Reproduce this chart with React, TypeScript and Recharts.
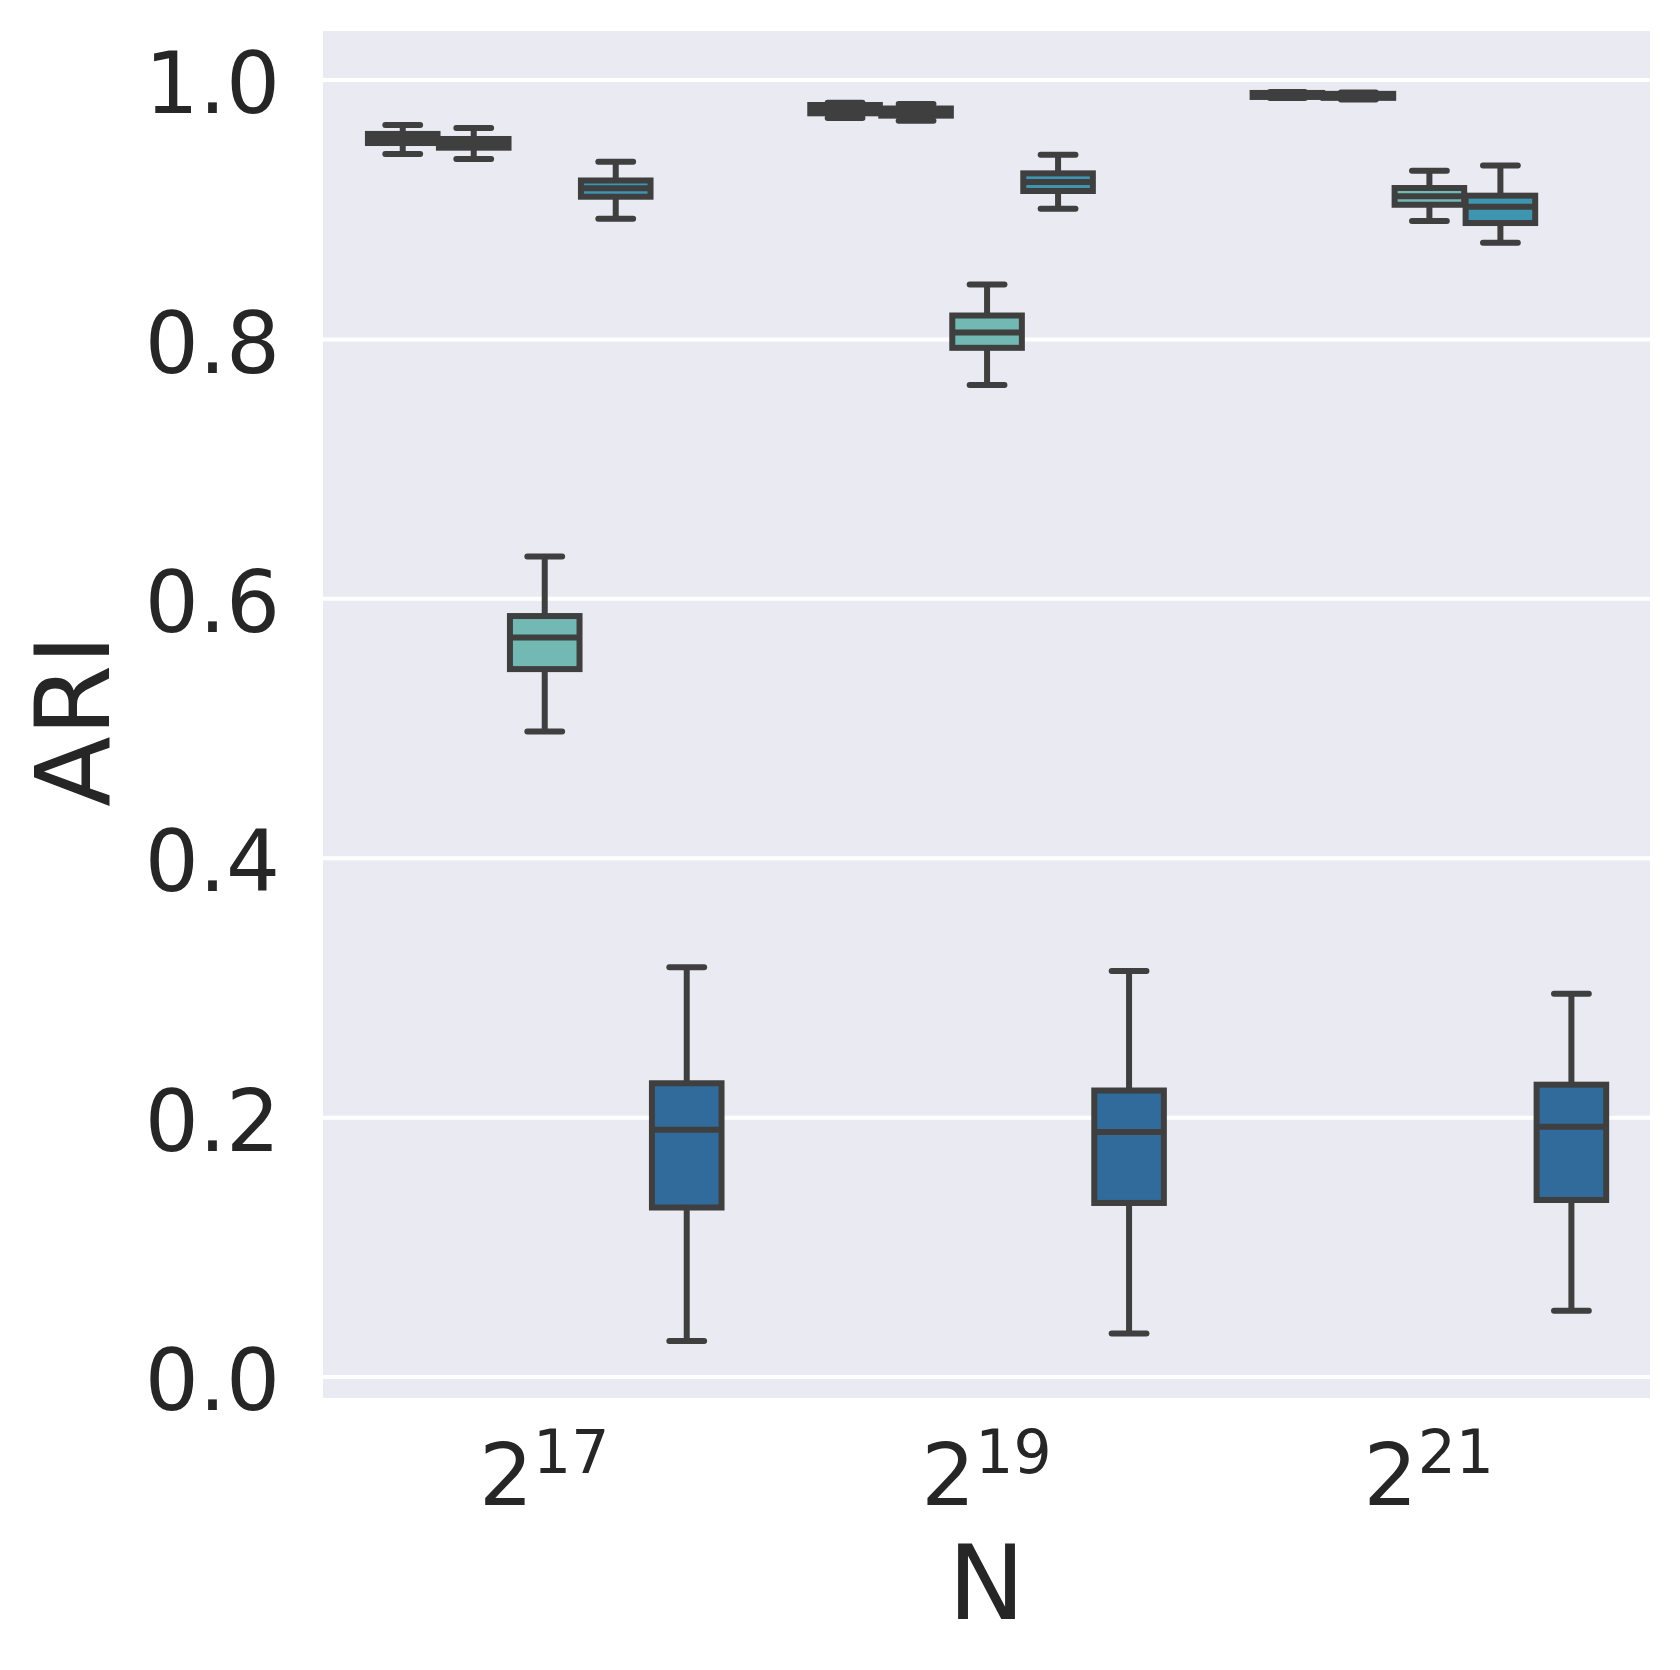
import { BarChart, Bar, XAxis, YAxis, CartesianGrid } from 'recharts';

// N = 2^17, 2^19, 2^21
const exponents = ['17', '19', '21'];

// five-number summaries per category: [whiskerLow, q1, median, q3, whiskerHigh]
const hueA = [
  [0.943, 0.9514, 0.955, 0.9584, 0.9653],
  [0.9707, 0.9743, 0.978, 0.9807, 0.9825],
  [0.9861, 0.9869, 0.9885, 0.99, 0.9908],
];
const hueB = [
  [0.939, 0.9478, 0.951, 0.9545, 0.963],
  [0.9686, 0.9725, 0.975, 0.978, 0.9815],
  [0.985, 0.9862, 0.9878, 0.9893, 0.9903],
];
const hueC = [
  [0.4977, 0.5458, 0.5701, 0.5867, 0.6327],
  [0.7648, 0.7935, 0.8054, 0.8184, 0.8423],
  [0.8913, 0.9038, 0.9103, 0.9167, 0.93],
];
const hueD = [
  [0.893, 0.91, 0.9165, 0.9225, 0.937],
  [0.9008, 0.9144, 0.9213, 0.928, 0.9424],
  [0.8746, 0.8897, 0.9023, 0.9108, 0.934],
];
const hueE = [
  [0.0278, 0.1307, 0.1907, 0.2265, 0.3159],
  [0.0335, 0.1342, 0.189, 0.2209, 0.313],
  [0.0511, 0.1365, 0.193, 0.2254, 0.2956],
];

const yTicks = [0, 0.2, 0.4, 0.6, 0.8, 1.0];

const hues = [
  { key: 'a', stats: hueA, color: '#c9e4b4' },
  { key: 'b', stats: hueB, color: '#a2d3b5' },
  { key: 'c', stats: hueC, color: '#72b9b4' },
  { key: 'd', stats: hueD, color: '#3d95b0' },
  { key: 'e', stats: hueE, color: '#306b9b' },
];

const data = exponents.map((exp, i) => {
  const row: any = { exp };
  hues.forEach((h) => {
    row[h.key] = h.stats[i];
  });
  return row;
});

const TEXT = '#262626';
const EDGE = '#3f3f3f';
const FONT = 'DejaVu Sans, sans-serif';
const LW = 6;

function makeBox(key: string, color: string) {
  return (props: any) => {
    const { x, y, width, height, payload } = props;
    const [wlo, q1, med, q3, whi] = payload[key];
    const top = Math.min(y, y + height);
    const bottom = Math.max(y, y + height);
    const k = (bottom - top) / (whi - wlo);
    const py = (v: number) => bottom - (v - wlo) * k;
    const cx = x + width / 2;
    const bw = width * 0.98;
    const bx = cx - bw / 2;
    const cap = bw / 4;
    return (
      <g>
        <rect x={bx} y={py(q3)} width={bw} height={py(q1) - py(q3)} fill={color} stroke={EDGE} strokeWidth={LW} />
        <line x1={cx} x2={cx} y1={py(q3)} y2={py(whi)} stroke={EDGE} strokeWidth={LW} />
        <line x1={cx} x2={cx} y1={py(q1)} y2={py(wlo)} stroke={EDGE} strokeWidth={LW} />
        <line x1={cx - cap} x2={cx + cap} y1={py(whi)} y2={py(whi)} stroke={EDGE} strokeWidth={LW} strokeLinecap="round" />
        <line x1={cx - cap} x2={cx + cap} y1={py(wlo)} y2={py(wlo)} stroke={EDGE} strokeWidth={LW} strokeLinecap="round" />
        <line x1={bx} x2={bx + bw} y1={py(med)} y2={py(med)} stroke={EDGE} strokeWidth={LW} />
      </g>
    );
  };
}

const XTick = (props: any) => {
  const { x, y, payload } = props;
  return (
    <text x={x} y={y} textAnchor="middle" fill={TEXT} fontFamily={FONT}>
      <tspan fontSize={85}>2</tspan>
      <tspan fontSize={60} dy={-32}>{payload.value}</tspan>
    </text>
  );
};

const YTick = (props: any) => {
  const { x, y, payload } = props;
  return (
    <text x={x} y={y} dy="0.39em" textAnchor="end" fill={TEXT} fontFamily={FONT} fontSize={85}>
      {Number(payload.value).toFixed(1)}
    </text>
  );
};

const yTitle = (props: any) => {
  const vb = props.viewBox;
  const cx = vb.x + 109;
  const cy = vb.y + vb.height / 2 + 6;
  return (
    <text x={cx} y={cy} transform={`rotate(-90 ${cx} ${cy})`} textAnchor="middle" fill={TEXT} fontFamily={FONT} fontSize={103}>
      ARI
    </text>
  );
};

const xTitle = (props: any) => {
  const vb = props.viewBox;
  return (
    <text x={vb.x + vb.width / 2} y={vb.y + 219} textAnchor="middle" fill={TEXT} fontFamily={FONT} fontSize={103}>
      N
    </text>
  );
};

export default function App() {
  return (
    <div style={{ position: 'absolute', left: 0, top: 0, width: 1680, height: 1670, background: '#fff' }}>
      <BarChart
        width={1680}
        height={1670}
        data={data}
        margin={{ top: 29, right: 30, bottom: 70, left: 0 }}
        barCategoryGap="10%"
        barGap={0}
      >
        <CartesianGrid vertical={false} stroke="#ffffff" strokeWidth={4} fill="#eaeaf2" fillOpacity={1} />
        <XAxis
          dataKey="exp"
          height={200}
          axisLine={false}
          tickLine={false}
          tickSize={0}
          tickMargin={105}
          interval={0}
          tick={<XTick />}
          label={xTitle}
        />
        <YAxis
          type="number"
          width={323}
          domain={[-0.0177, 1.0393]}
          allowDataOverflow
          ticks={yTicks}
          axisLine={false}
          tickLine={false}
          tickSize={0}
          tickMargin={43}
          tick={<YTick />}
          label={yTitle}
        />
        {hues.map((h) => (
          <Bar
            key={h.key}
            dataKey={(row: any) => [row[h.key][0], row[h.key][4]]}
            fill={h.color}
            isAnimationActive={false}
            shape={makeBox(h.key, h.color)}
          />
        ))}
      </BarChart>
    </div>
  );
}
